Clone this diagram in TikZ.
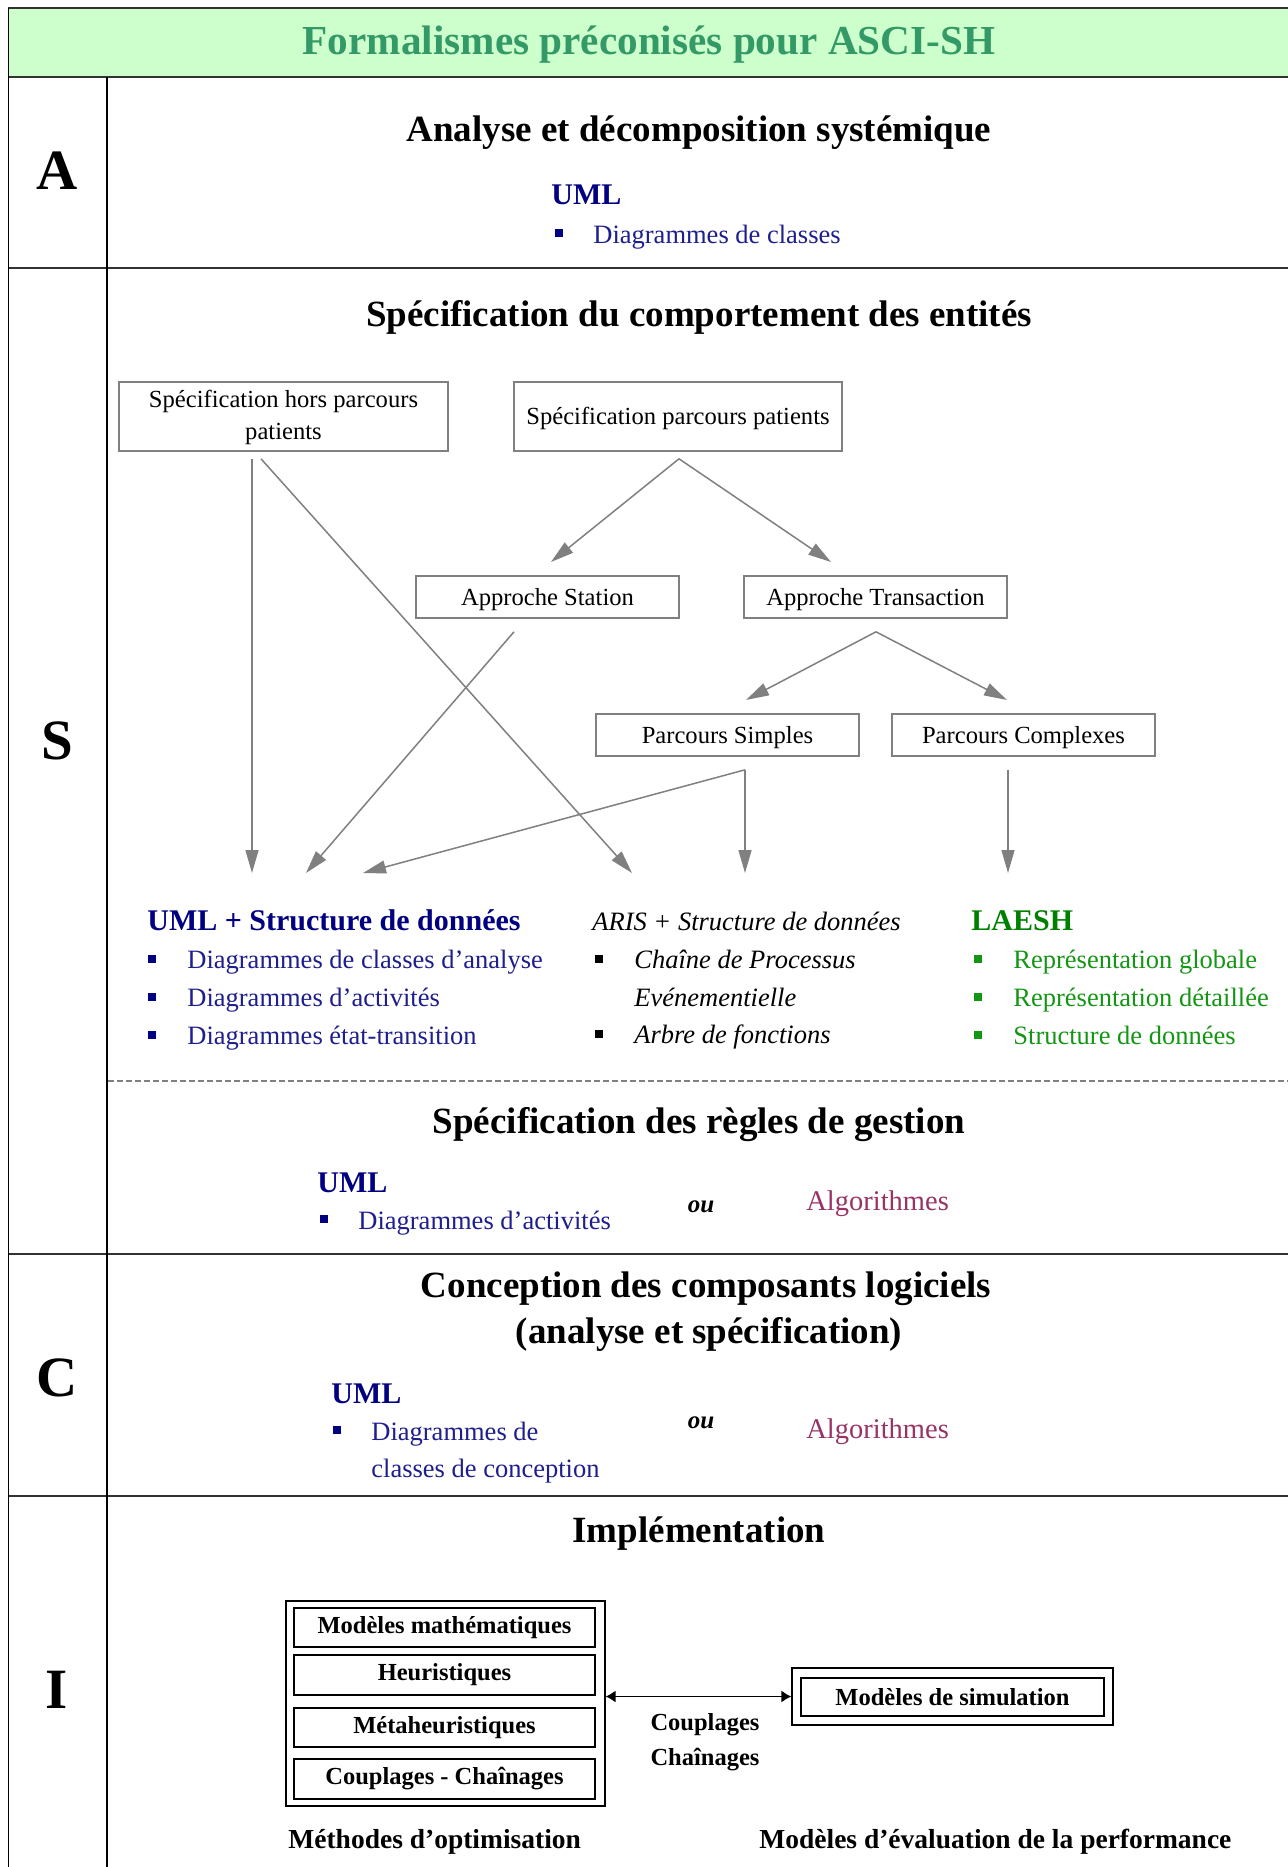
\documentclass[tikz,border=0pt]{standalone}
\usepackage{fontspec}
\setmainfont{Liberation Serif}
\usetikzlibrary{arrows.meta,calc}
\definecolor{hdrgreen}{RGB}{204,255,204}
\definecolor{titlegreen}{RGB}{51,153,102}
\definecolor{navyc}{RGB}{0,0,128}
\definecolor{navyitem}{RGB}{30,30,140}
\definecolor{laeshgreen}{RGB}{0,128,0}
\definecolor{laeshitem}{RGB}{20,150,20}
\definecolor{algoc}{RGB}{153,51,102}
\definecolor{rulec}{RGB}{50,50,50}
\definecolor{connc}{RGB}{128,128,128}
\newcommand{\fsz}[2]{\fontsize{#1}{#2}\selectfont}
\begin{document}
\begin{tikzpicture}[x=0.5pt,y=-0.5pt,
  txt/.style={inner sep=0pt, anchor=base west},
  ctxt/.style={inner sep=0pt, anchor=base},
  heading/.style={ctxt, font=\fsz{18.5}{22}\bfseries},
  letter/.style={inner sep=0pt, font=\fsz{28.5}{30}\bfseries},
  umlhead/.style={txt, font=\fsz{15}{18}\bfseries, text=navyc},
  itemtxt/.style={txt, font=\fsz{13.25}{16}},
  sq/.style={fill=#1, inner sep=0pt, minimum size=4pt, draw=none},
  sbox/.style={draw=connc, line width=0.8pt, inner sep=0pt, font=\fsz{12.3}{16}, align=center},
  sboxone/.style={sbox, text height=8.5pt, text depth=0.2pt},
  conn/.style={draw=connc, line width=0.75pt, -{Triangle[length=11.5pt,width=6.5pt]}},
  ibox/.style={draw=black, line width=1pt, inner sep=0pt, font=\fsz{12.25}{15}\bfseries},
  obox/.style={draw=black, line width=0.6pt, inner sep=0pt},
  tabh/.style={draw=rulec, line width=1pt},
  tabv/.style={draw=black, line width=0.6pt},
  ouf/.style={ctxt, font=\fsz{12.5}{15}\bfseries\itshape},
  algof/.style={txt, font=\fsz{14.25}{17}, text=algoc},
  ifoot/.style={txt, font=\fsz{13.75}{16}\bfseries},
]
\useasboundingbox (0,0) rectangle (1288,1867);
\fill[white] (0,0) rectangle (1288,1867);
% header and table
\fill[hdrgreen] (8,8) rectangle (1288,77);
\draw[tabh] (8,8) -- (1288,8);
\draw[tabh] (8,77) -- (1288,77);
\draw[tabh] (8,268) -- (1288,268);
\draw[tabh] (8,1254) -- (1288,1254);
\draw[tabh] (8,1496) -- (1288,1496);
\draw[tabv] (8.5,8) -- (8.5,1867);
\draw[tabv] (107,77) -- (107,1867);
\draw[connc, line width=0.75pt, dash pattern=on 3pt off 1.5pt] (108,1081) -- (1288,1081);

\node[ctxt, font=\fsz{20.6}{24}\bfseries, text=titlegreen] (title) at (649,55) {Formalismes préconisés pour ASCI-SH};

% row letters
\node[letter] (LA) at (57,171) {A};
\node[letter] (LS) at (57,741) {S};
\node[letter] (LC) at (57,1378) {C};
\node[letter] (LI) at (57,1690) {I};

% row A
\node[heading] (hA) at (699,142) {Analyse et décomposition systémique};
\node[umlhead] (umlA) at (551,205) {UML};
\node[sq=navyc] (bA) at (559,233) {};
\node[itemtxt, text=navyitem] (iA) at (593,243) {Diagrammes de classes};

% row S
\node[heading] (hS) at (699,326) {Spécification du comportement des entités};
\node[sbox, minimum width=164.5pt, minimum height=34.5pt] (box1) at (283.5,416.5) {\rule{0pt}{10pt}Spécification hors parcours\\patients};
\node[sboxone, minimum width=164pt, minimum height=34.5pt] (box2) at (678,416.5) {Spécification parcours patients};
\node[sboxone, minimum width=131.5pt, minimum height=21pt] (station) at (547.5,597) {Approche Station};
\node[sboxone, minimum width=131.5pt, minimum height=21pt] (trans) at (875.5,597) {Approche Transaction};
\node[sboxone, minimum width=131.5pt, minimum height=21pt] (simples) at (727.5,735) {Parcours Simples};
\node[sboxone, minimum width=131.5pt, minimum height=21pt] (complexes) at (1023.5,735) {Parcours Complexes};

\coordinate (c1) at (551,562);
\coordinate (c2) at (831,562);
\coordinate (c3) at (746,700);
\coordinate (c4) at (1007,700);
\coordinate (e1) at (252,873);
\coordinate (e2) at (306,873);
\coordinate (e3) at (363,873);
\coordinate (e4) at (632,873);
\coordinate (e5) at (745,873);
\coordinate (e6) at (1008,873);

\draw[conn] ($(box2.south)+(1,7)$) -- (c1);
\draw[conn] ($(box2.south)+(1,7)$) -- (c2);
\draw[conn] ($(trans.south)+(0.5,13)$) -- (c3);
\draw[conn] ($(trans.south)+(0.5,13)$) -- (c4);
\draw[conn] ($(box1.south)+(-31.5,7)$) -- (e1);
\draw[conn] ($(box1.south)+(-22.5,7)$) -- (e4);
\draw[conn] ($(station.south)+(-33.5,13)$) -- (e2);
\draw[conn] ($(simples.south)+(17.5,13)$) -- (e5);
\draw[conn] ($(simples.south)+(17.5,13)$) -- (e3);
\draw[conn] ($(complexes.south)+(-15.5,13)$) -- (e6);

\node[umlhead] (umlS) at (147,930) {UML + Structure de données};
\node[sq=navyc] (bS1) at (152,959) {};
\node[sq=navyc] (bS2) at (152,997) {};
\node[sq=navyc] (bS3) at (152,1035) {};
\node[itemtxt, text=navyitem] (iS1) at (187,968) {Diagrammes de classes d’analyse};
\node[itemtxt, text=navyitem] (iS2) at (187,1006) {Diagrammes d’activités};
\node[itemtxt, text=navyitem] (iS3) at (187,1044) {Diagrammes état-transition};

\node[txt, font=\fsz{13.25}{16}\itshape] (aris) at (592,930) {ARIS + Structure de données};
\node[sq=black] (bT1) at (599,959) {};
\node[sq=black] (bT2) at (599,1034) {};
\node[itemtxt, font=\fsz{13.25}{16}\itshape] (iT1) at (634,968) {Chaîne de Processus};
\node[itemtxt, font=\fsz{13.25}{16}\itshape] (iT2) at (634,1006) {Evénementielle};
\node[itemtxt, font=\fsz{13.25}{16}\itshape] (iT3) at (634,1043) {Arbre de fonctions};

\node[txt, font=\fsz{15}{18}\bfseries, text=laeshgreen] (laesh) at (971,930) {LAESH};
\node[sq=laeshitem] (bL1) at (978,959) {};
\node[sq=laeshitem] (bL2) at (978,997) {};
\node[sq=laeshitem] (bL3) at (978,1035) {};
\node[itemtxt, text=laeshitem] (iL1) at (1013,968) {Représentation globale};
\node[itemtxt, text=laeshitem] (iL2) at (1013,1006) {Représentation détaillée};
\node[itemtxt, text=laeshitem] (iL3) at (1013,1044) {Structure de données};

% regles de gestion
\node[heading] (hR) at (699,1133) {Spécification des règles de gestion};
\node[umlhead] (umlR) at (317,1192) {UML};
\node[sq=navyc] (bR) at (324,1219) {};
\node[itemtxt, text=navyitem] (iR) at (358,1229) {Diagrammes d’activités};
\node[ouf] (ouR) at (701,1212) {ou};
\node[algof] (algR) at (806,1210) {Algorithmes};

% row C
\node[heading] (hC1) at (706,1297) {Conception des composants logiciels};
\node[heading] (hC2) at (709,1343) {(analyse et spécification)};
\node[umlhead] (umlC) at (331,1403) {UML};
\node[sq=navyc] (bC) at (337,1430) {};
\node[itemtxt, text=navyitem] (iC1) at (371,1440) {Diagrammes de};
\node[itemtxt, text=navyitem] (iC2) at (371,1477) {classes de conception};
\node[ouf] (ouC) at (701,1428) {ou};
\node[algof] (algC) at (806,1438) {Algorithmes};

% row I
\node[heading] (hI) at (699,1542) {Implémentation};
\node[obox, minimum width=159.5pt, minimum height=102.5pt] (optbox) at (445.5,1703.5) {};
\node[ibox, minimum width=150.5pt, minimum height=19.5pt] (mm) at (444.5,1627.5) {Modèles mathématiques};
\node[ibox, minimum width=150.5pt, minimum height=20pt] (heur) at (444.5,1675) {Heuristiques};
\node[ibox, minimum width=150.5pt, minimum height=19.5pt] (meta) at (444.5,1727.5) {Métaheuristiques};
\node[ibox, minimum width=150.5pt, minimum height=20pt] (coup) at (444.5,1779) {Couplages - Chaînages};
\node[obox, minimum width=160.5pt, minimum height=28.5pt] (simout) at (952.5,1696.5) {};
\node[ibox, minimum width=151.5pt, minimum height=19pt] (simin) at (952.5,1697) {Modèles de simulation};
\draw[line width=0.75pt, {Latex[length=5pt,width=6pt]}-{Latex[length=5pt,width=6pt]}] (optbox.east |- simout.west) -- (simout.west);
\node[ctxt, font=\fsz{12.25}{15}\bfseries] (cpl) at (705,1730) {Couplages};
\node[ctxt, font=\fsz{12.25}{15}\bfseries] (chn) at (705,1765) {Chaînages};
\node[ifoot] (mopt) at (288,1848) {Méthodes d’optimisation};
\node[ifoot] (meval) at (759,1848) {Modèles d’évaluation de la performance};
\end{tikzpicture}
\end{document}
